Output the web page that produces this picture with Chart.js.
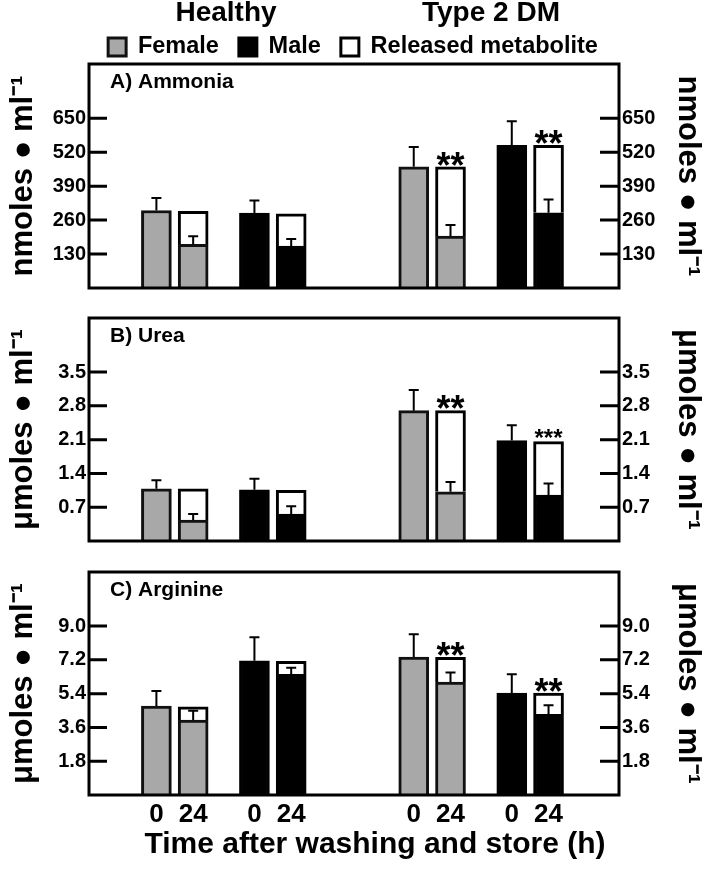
<!DOCTYPE html>
<html>
<head>
<meta charset="utf-8">
<script src="https://cdn.jsdelivr.net/npm/chart.js@4.4.0/dist/chart.umd.min.js"></script>
<style>
  body { margin: 0; background: #fff; width: 706px; height: 874px; position: relative; overflow: hidden;
         font-family: "Liberation Sans", Arial, sans-serif; }
  canvas { position: absolute; left: 0; }
  .txt { position: absolute; font-weight: bold; white-space: nowrap; transform: translateX(-50%); color: #000; }
</style>
</head>
<body>
<canvas id="panelA" width="706" height="303" style="top:0px"></canvas>
<canvas id="panelB" width="706" height="253" style="top:303px"></canvas>
<canvas id="panelC" width="706" height="317" style="top:557px"></canvas>
<div class="txt" style="left:226px;top:-2px;font-size:28px;line-height:28px">Healthy</div>
<div class="txt" style="left:491px;top:-2px;font-size:28px;line-height:28px">Type 2 DM</div>
<div class="txt" style="left:375px;top:828px;font-size:30px;line-height:30px">Time after washing and store (h)</div>

<script>
// bars, left to right: Healthy F 0h, F 24h, M 0h, M 24h, Type 2 DM F 0h, F 24h, M 0h, M 24h
const timeLabels = ["0", "24", "0", "24", "0", "24", "0", "24"];
const barSex = ["F", "F", "M", "M", "F", "F", "M", "M"];
const seriesNames = ["Female", "Male", "Released metabolite"];
const panelTitles = ["A) Ammonia", "B) Urea", "C) Arginine"];
const unitTitles = ["nmoles \u25CF ml\u207B\u00B9", "\u03BCmoles \u25CF ml\u207B\u00B9", "\u03BCmoles \u25CF ml\u207B\u00B9"];

// total bar height (0 h value, or 24 h remaining + released), remaining part at 24 h, SEM of the coloured part
const ammoniaTotal = [297, 294, 287, 284, 464, 464, 546, 546];
const ammoniaRemain = [null, 167, null, 161, null, 199, null, 288];
const ammoniaErr = [48, 31, 48, 27, 76, 42, 93, 51];
const ammoniaStars = ["", "", "", "", "", "**", "", "**"];
const ammoniaTicks = [130, 260, 390, 520, 650];

const ureaTotal = [1.08, 1.08, 1.06, 1.05, 2.70, 2.70, 2.08, 2.06];
const ureaRemain = [null, 0.435, null, 0.56, null, 1.02, null, 0.95];
const ureaErr = [0.18, 0.125, 0.23, 0.16, 0.43, 0.20, 0.32, 0.24];
const ureaStars = ["", "", "", "", "", "**", "", "***"];
const ureaTicks = [0.7, 1.4, 2.1, 2.8, 3.5];

const arginineTotal = [4.74, 4.70, 7.15, 7.12, 7.35, 7.33, 5.43, 5.43];
const arginineRemain = [null, 3.99, null, 6.43, null, 6.02, null, 4.30];
const arginineErr = [0.80, 0.50, 1.25, 0.35, 1.21, 0.51, 1.00, 0.48];
const arginineStars = ["", "", "", "", "", "**", "", "**"];
const arginineTicks = [1.8, 3.6, 5.4, 7.2, 9.0];

// layout: where each bar sits along the x axis
const slotPos = [5.5, 8.5, 13.5, 16.5, 26.5, 29.5, 34.5, 37.5];
const xMax = 43.25;

Chart.defaults.font.family = '"Liberation Sans", Arial, sans-serif';
Chart.defaults.color = "#000";

function makePanel(id, p) {
  const female = [], male = [], released = [];
  p.total.forEach((t, i) => {
    const base = p.remain[i] === null ? t : p.remain[i];
    if (barSex[i] === "F") female.push({x: slotPos[i], y: base});
    else male.push({x: slotPos[i], y: base});
    if (p.remain[i] !== null) released.push({x: slotPos[i], y: t - p.remain[i]});
  });

  const decor = {
    id: "decor" + id,
    afterDatasetsDraw(chart) {
      const ctx = chart.ctx, x = chart.scales.x, y = chart.scales.y;
      ctx.save();
      ctx.strokeStyle = "#000";
      ctx.lineWidth = 2;
      // error bars on the coloured part of every bar
      p.total.forEach((t, i) => {
        const top = p.remain[i] === null ? t : p.remain[i];
        const px = x.getPixelForValue(slotPos[i]);
        const y0 = y.getPixelForValue(top);
        const y1 = y.getPixelForValue(top + p.err[i]);
        ctx.beginPath();
        ctx.moveTo(px, y0); ctx.lineTo(px, y1);
        ctx.moveTo(px - 5, y1); ctx.lineTo(px + 5, y1);
        ctx.stroke();
      });
      // significance stars
      ctx.fillStyle = "#000";
      ctx.textAlign = "center";
      ctx.textBaseline = "alphabetic";
      p.stars.forEach((s, i) => {
        if (!s) return;
        const size = s.length > 2 ? 24 : 36;
        ctx.font = "bold " + size + "px 'Liberation Sans', Arial, sans-serif";
        ctx.fillText(s, x.getPixelForValue(slotPos[i]), y.getPixelForValue(p.total[i]) - 9 + 0.55 * size);
      });
      ctx.restore();
    },
    afterDraw(chart) {
      const ctx = chart.ctx, a = chart.chartArea, y = chart.scales.y;
      ctx.save();
      ctx.strokeStyle = "#000";
      ctx.lineWidth = 3;
      ctx.strokeRect(a.left, a.top, a.right - a.left, a.bottom - a.top);
      // inward tick marks on both sides
      ctx.beginPath();
      y.ticks.forEach(t => {
        const py = y.getPixelForValue(t.value);
        ctx.moveTo(a.left, py); ctx.lineTo(a.left + 18, py);
        ctx.moveTo(a.right - 19, py); ctx.lineTo(a.right, py);
      });
      ctx.stroke();
      ctx.fillStyle = "#000";
      ctx.font = "bold 21px 'Liberation Sans', Arial, sans-serif";
      ctx.textAlign = "left";
      ctx.textBaseline = "alphabetic";
      ctx.fillText(p.title, a.left + 21, a.top + 23.5);
      ctx.restore();
    }
  };

  const yAxis = (pos, w, pad) => ({
    position: pos,
    min: 0,
    max: p.max,
    stacked: true,
    grid: {display: false, drawTicks: false},
    border: {display: false},
    afterBuildTicks: s => { s.ticks = p.ticks.map(v => ({value: v})); },
    afterFit: s => { s.width = w; },
    ticks: {padding: 3, font: {size: 20, weight: "bold"}, callback: v => v.toFixed(p.decimals)},
    title: {display: true, text: p.unit, font: {size: 31, weight: "bold"}, padding: {top: pad, bottom: 0}}
  });

  return new Chart(document.getElementById(id), {
    type: "bar",
    data: {
      datasets: [
        {label: seriesNames[0], data: female, backgroundColor: "#a8a8a8", borderColor: "#111", borderWidth: 3},
        {label: seriesNames[1], data: male, backgroundColor: "#000", borderColor: "#000", borderWidth: 3},
        {label: seriesNames[2], data: released, backgroundColor: "#fff", borderColor: "#000", borderWidth: 3, borderSkipped: "bottom"}
      ]
    },
    options: {
      responsive: false,
      devicePixelRatio: 1,
      animation: false,
      datasets: {bar: {barThickness: 30}},
      layout: {padding: {top: p.padTop, bottom: 4, left: 0, right: 0}},
      scales: {
        x: {
          type: "linear",
          min: 0,
          max: xMax,
          offset: false,
          stacked: true,
          display: p.showX,
          grid: {display: false, drawTicks: false},
          border: {display: false},
          afterBuildTicks: s => { s.ticks = slotPos.map(v => ({value: v})); },
          afterFit: s => { if (p.showX) s.height = 75; },
          ticks: {autoSkip: false, maxRotation: 0, padding: 4, font: {size: 26, weight: "bold"},
                  callback: (v, i) => timeLabels[i]}
        },
        y: yAxis("left", 89, 5),
        y2: yAxis("right", 87, 0)
      },
      plugins: {
        legend: {
          display: p.legend,
          maxHeight: 48.75,
          labels: {boxWidth: 18, boxHeight: 18, padding: 20, font: {size: 23.5, weight: "bold"}, color: "#000"}
        },
        tooltip: {enabled: false}
      }
    },
    plugins: [decor]
  });
}

makePanel("panelA", {total: ammoniaTotal, remain: ammoniaRemain, err: ammoniaErr, stars: ammoniaStars,
  ticks: ammoniaTicks, max: 858, decimals: 0, title: panelTitles[0], unit: unitTitles[0],
  padTop: 15.25, legend: true, showX: false});
makePanel("panelB", {total: ureaTotal, remain: ureaRemain, err: ureaErr, stars: ureaStars,
  ticks: ureaTicks, max: 4.62, decimals: 1, title: panelTitles[1], unit: unitTitles[1],
  padTop: 0, legend: false, showX: false});
makePanel("panelC", {total: arginineTotal, remain: arginineRemain, err: arginineErr, stars: arginineStars,
  ticks: arginineTicks, max: 11.88, decimals: 1, title: panelTitles[2], unit: unitTitles[2],
  padTop: 0, legend: false, showX: true});
</script>
</body>
</html>
